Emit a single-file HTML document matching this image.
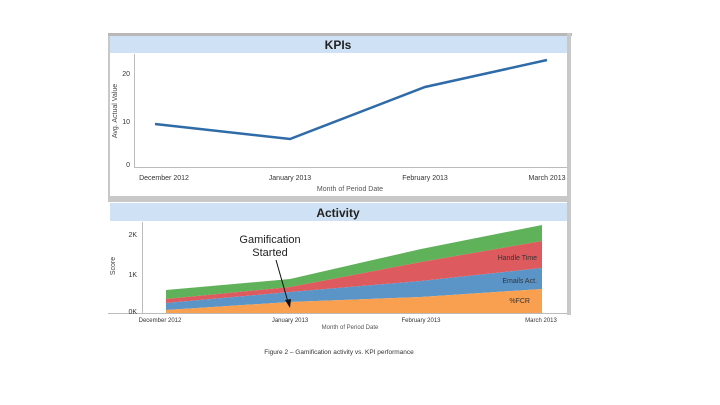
<!DOCTYPE html>
<html><head><meta charset="utf-8"><style>
body{margin:0;background:#fff;}
svg{display:block;font-family:"Liberation Sans",sans-serif;}
</style></head><body>
<svg width="720" height="405" viewBox="0 0 720 405">
<rect x="0" y="0" width="720" height="405" fill="#fff"/>
<!-- frames -->
<rect x="108" y="33" width="2" height="165" fill="#c8c8c8"/>
<rect x="108" y="33" width="464" height="3" fill="#b8b8b8"/>
<rect x="567" y="33" width="4" height="282" fill="#c8c8c8"/>
<rect x="108" y="196" width="463" height="6" fill="#c8c8c8"/>
<rect x="110" y="36" width="457" height="17" fill="#cfe2f5"/>
<rect x="110" y="203" width="457" height="18" fill="#cfe2f5"/>
<text x="338" y="49" font-size="12" font-weight="bold" text-anchor="middle" fill="#222">KPIs</text>
<text x="338" y="217" font-size="12" font-weight="bold" text-anchor="middle" fill="#222">Activity</text>
<!-- KPI axes -->
<line x1="134.5" y1="54" x2="134.5" y2="168" stroke="#bbb"/>
<line x1="134" y1="167.5" x2="567" y2="167.5" stroke="#bbb"/>
<g font-size="7" fill="#333" text-anchor="end">
<text x="130" y="76">20</text><text x="130" y="124">10</text><text x="130" y="167">0</text>
</g>
<text transform="translate(117,111) rotate(-90)" font-size="7" fill="#444" text-anchor="middle">Avg. Actual Value</text>
<g font-size="7" fill="#333" text-anchor="middle">
<text x="164" y="180">December 2012</text><text x="290" y="180">January 2013</text>
<text x="425" y="180">February 2013</text><text x="547" y="180">March 2013</text>
</g>
<text x="350" y="191" font-size="7" fill="#555" text-anchor="middle">Month of Period Date</text>
<polyline points="155,124 290,139 425,87 547,60" fill="none" stroke="#2e6ba8" stroke-width="2.5"/>
<!-- Activity -->
<line x1="142.5" y1="222" x2="142.5" y2="314" stroke="#bbb"/>
<line x1="108" y1="313.5" x2="567" y2="313.5" stroke="#bbb"/>
<g font-size="7" fill="#333" text-anchor="end">
<text x="137" y="237">2K</text><text x="137" y="277">1K</text><text x="137" y="314">0K</text>
</g>
<text transform="translate(115,266) rotate(-90)" font-size="7" fill="#444" text-anchor="middle">Score</text>
<polygon points="166,290 290,279 421,249 542,225 542,241 421,262 290,287 166,299" fill="#5fb25a"/>
<polygon points="166,299 290,287 421,262 542,241 542,268 421,281 290,292 166,303" fill="#dd5b5e"/>
<polygon points="166,303 290,292 421,281 542,268 542,289 421,297 290,302 166,310" fill="#5b95c8"/>
<polygon points="166,310 290,302 421,297 542,289 542,313 166,313" fill="#f9a050"/>
<g font-size="7" fill="#333" text-anchor="end">
<text x="537" y="260">Handle Time</text><text x="537" y="283">Emails Act.</text><text x="530" y="303">%FCR</text>
</g>
<g font-size="6" fill="#333" text-anchor="middle">
<text x="160" y="322">December 2012</text><text x="290" y="322">January 2013</text>
<text x="421" y="322">February 2013</text><text x="541" y="322">March 2013</text>
</g>
<text x="350" y="329" font-size="6" fill="#555" text-anchor="middle">Month of Period Date</text>
<text x="270" y="243" font-size="11" fill="#222" text-anchor="middle">Gamification</text>
<text x="270" y="256" font-size="11" fill="#222" text-anchor="middle">Started</text>
<line x1="276" y1="260" x2="288" y2="302" stroke="#111" stroke-width="1"/>
<polygon points="290,308 285,300 291,299" fill="#111"/>
<text x="339" y="354" font-size="6.5" fill="#333" text-anchor="middle">Figure 2 – Gamification activity vs. KPI performance</text>
</svg>
</body></html>
